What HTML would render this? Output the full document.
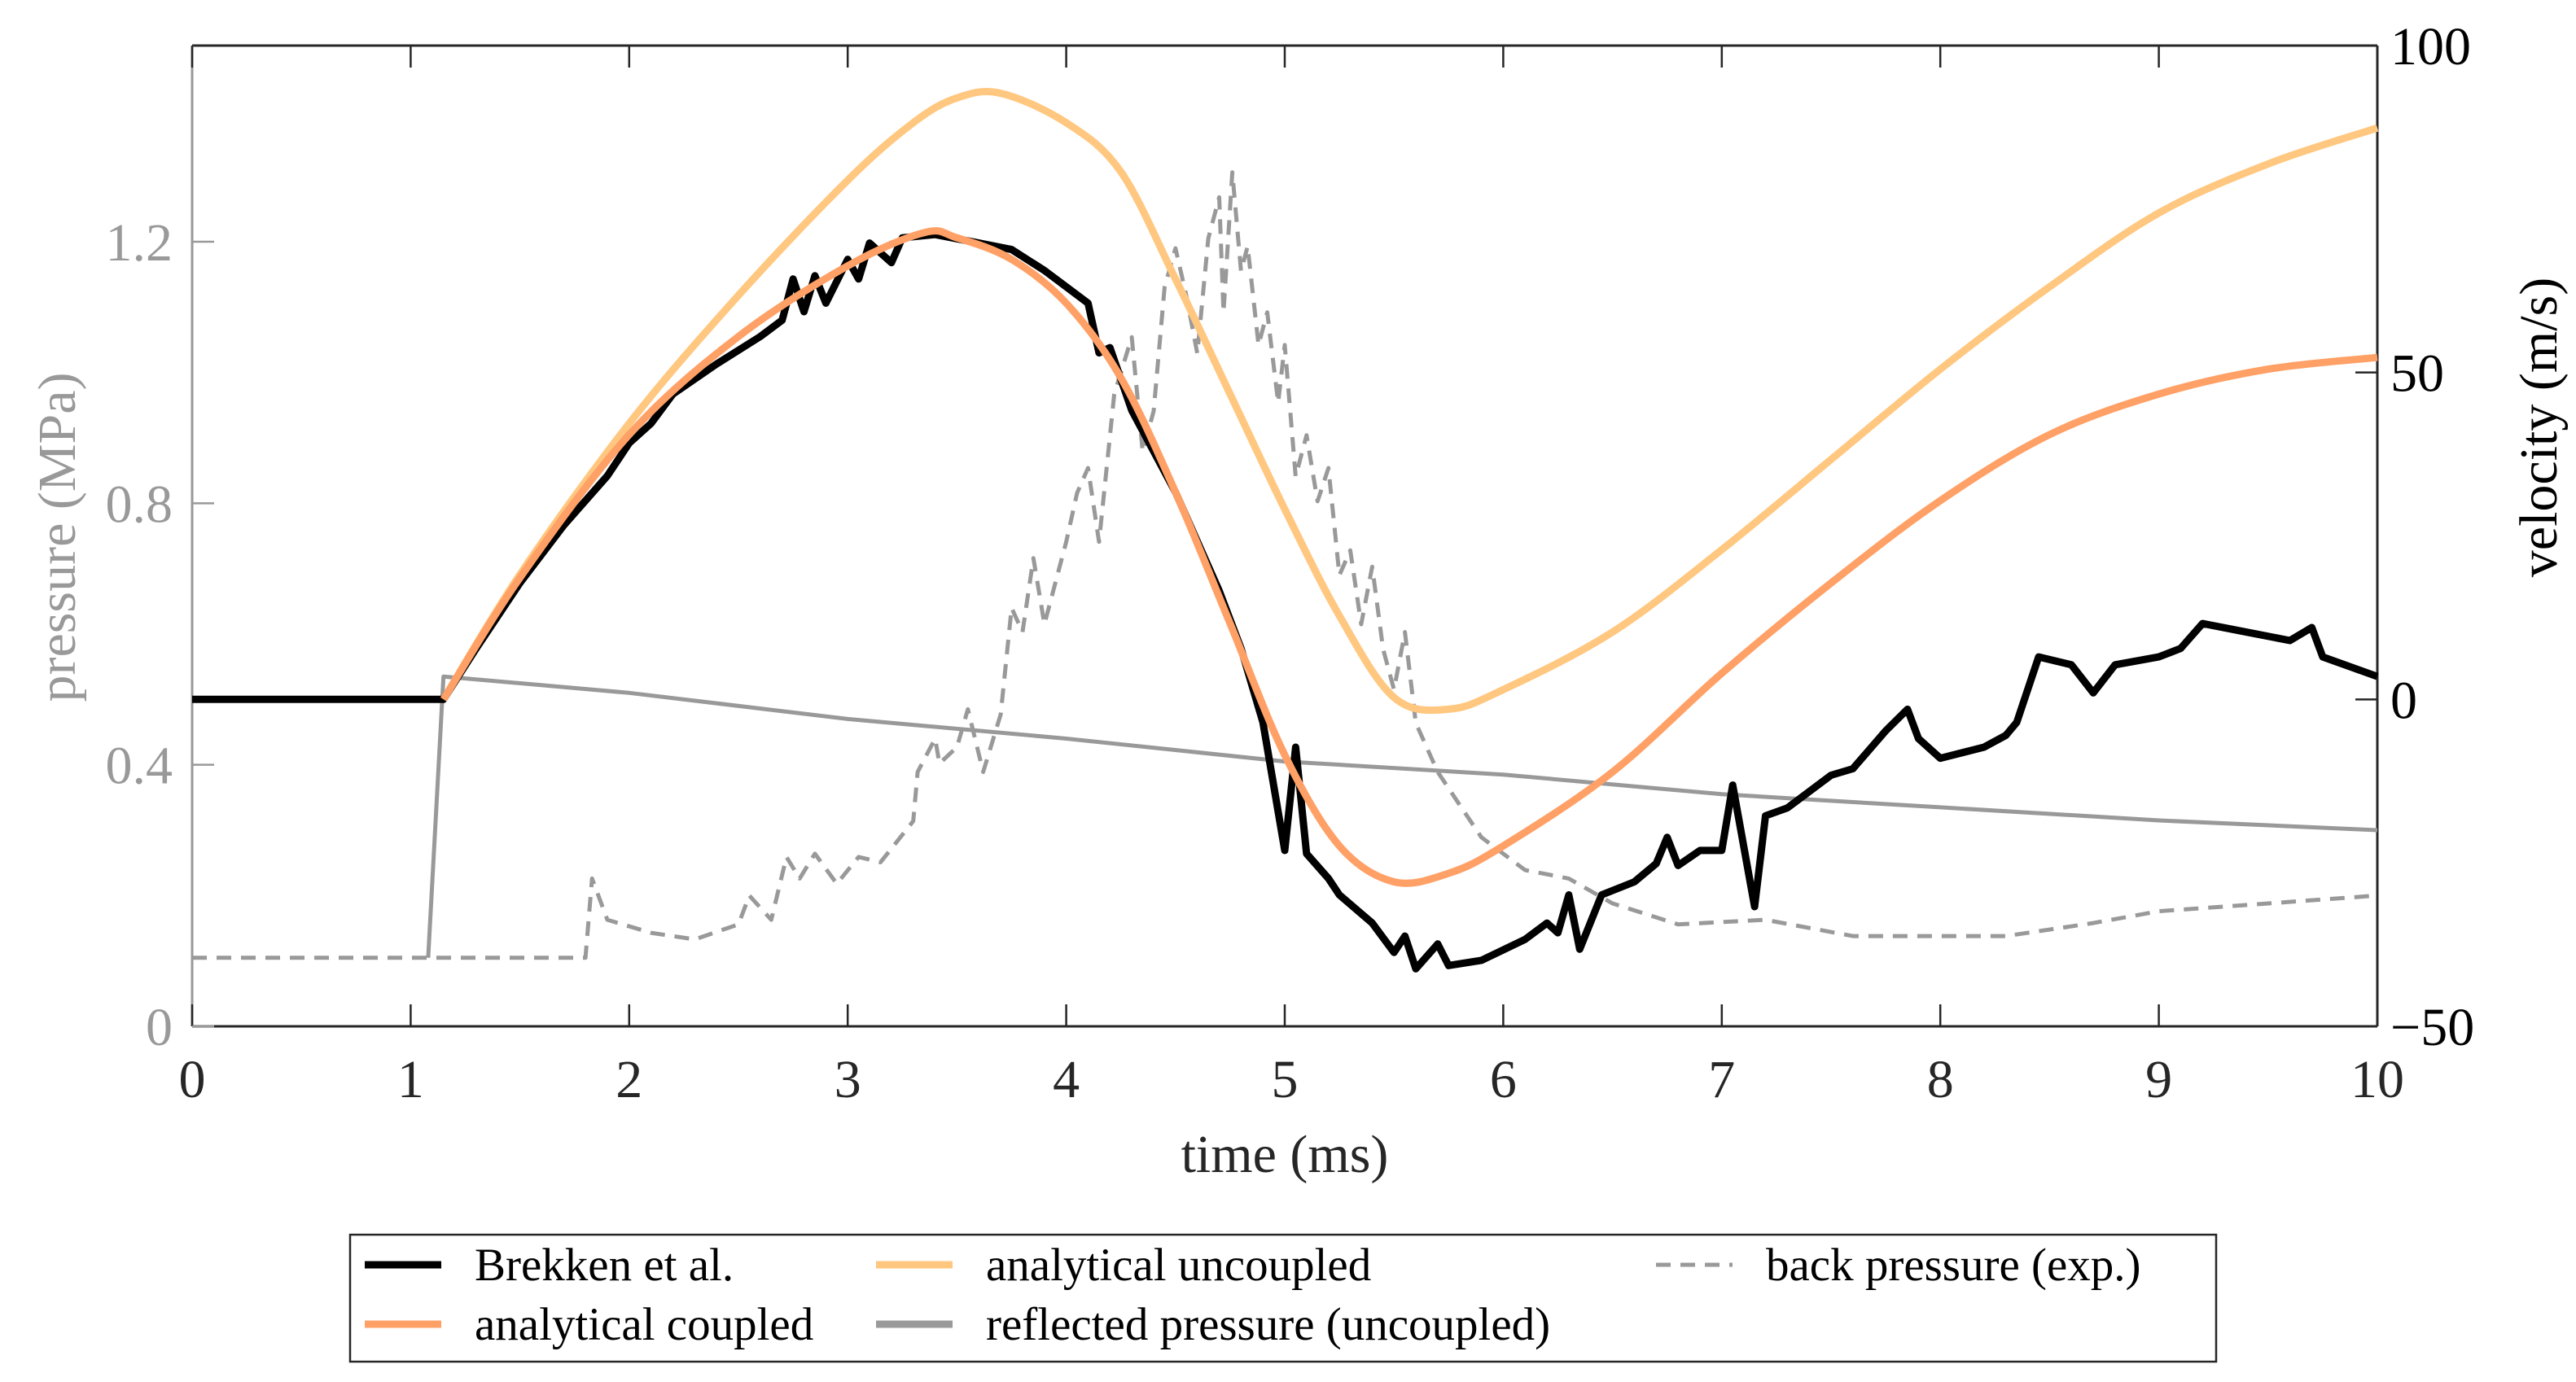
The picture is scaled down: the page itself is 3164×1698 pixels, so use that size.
<!DOCTYPE html>
<html><head><meta charset="utf-8"><style>
html,body{margin:0;padding:0;background:#fff;}
svg text{font-family:"Liberation Serif",serif;}
</style></head><body>
<svg id="chart" width="3164" height="1693" viewBox="0 0 3164 1693" xmlns="http://www.w3.org/2000/svg"></svg>
<script>
const xTicks=[0,1,2,3,4,5,6,7,8,9,10];
const pTicks=[0,0.4,0.8,1.2];
const pTickLabels=["0","0.4","0.8","1.2"];
const vTicks=[-50,0,50,100];
const vTickLabels=["\u221250","0","50","100"];
const brekkenT=[0,1.15,1.3,1.5,1.7,1.9,2.0,2.1,2.2,2.4,2.6,2.7,2.75,2.8,2.85,2.9,3.0,3.05,3.1,3.2,3.25,3.4,3.6,3.75,3.9,4.0,4.1,4.15,4.2,4.3,4.5,4.7,4.8,4.9,5.0,5.05,5.1,5.2,5.25,5.4,5.5,5.55,5.6,5.7,5.75,5.9,6.1,6.2,6.25,6.3,6.35,6.45,6.6,6.7,6.75,6.8,6.9,7.0,7.05,7.15,7.2,7.3,7.5,7.6,7.75,7.85,7.9,8.0,8.2,8.3,8.35,8.45,8.6,8.7,8.8,9.0,9.1,9.2,9.4,9.6,9.7,9.75,10];
const brekkenV=[0,0,7.8,17.8,26.6,34.2,39.2,42.2,46.7,51.3,55.5,58,64.3,59.3,64.8,60.6,67.3,64.3,69.8,66.8,70.6,71.1,69.8,68.8,65.6,63.1,60.6,53,53.8,44.2,31.7,16.6,7.8,-3.5,-23.1,-7.3,-23.6,-27.4,-29.9,-34.2,-38.7,-36.2,-41.2,-37.4,-40.7,-39.9,-36.7,-34.2,-35.7,-29.9,-38.2,-29.9,-27.9,-25.1,-21.1,-25.4,-23.1,-23.1,-13.1,-31.7,-17.8,-16.6,-11.6,-10.6,-4.8,-1.5,-6,-9,-7.3,-5.5,-3.5,6.5,5.3,1,5.3,6.5,7.8,11.6,10.3,9,11,6.5,3.5];
const coupledT=[1.15,1.5,2,2.5,3,3.35,3.5,3.75,4,4.25,4.5,4.75,5,5.25,5.5,5.75,6,6.5,7,7.5,8,8.5,9,9.5,10];
const coupledV=[0,18.6,40.5,55.5,66.3,71.4,70.6,67.3,60.6,49.2,31.7,11.6,-8.5,-22.4,-27.9,-26.6,-22.4,-11.1,4,17.8,30.4,40.5,46.7,50.5,52.3];
const uncoupledT=[1.15,1.5,2,2.5,3,3.3,3.5,3.7,4,4.25,4.5,4.75,5,5.25,5.5,5.75,6,6.5,7,7.5,8,8.5,9,9.5,10];
const uncoupledV=[0,19.1,42.2,61.8,79.4,88.2,92,92.7,88.2,80.7,64.3,46.7,29.1,12.8,0.3,-1.5,1.5,10.3,22.9,36.7,50.5,63.1,74.4,81.9,87.4];
const reflT=[1.08,1.15,2,3,4,5,6,7,8,9,10];
const reflP=[0.105,0.535,0.51,0.47,0.44,0.405,0.385,0.355,0.335,0.315,0.30];
const backT=[0,1.8,1.83,1.9,2.1,2.3,2.5,2.55,2.65,2.72,2.78,2.85,2.95,3.05,3.15,3.3,3.32,3.4,3.42,3.5,3.55,3.62,3.7,3.75,3.8,3.85,3.9,4.0,4.05,4.1,4.15,4.22,4.3,4.35,4.4,4.45,4.5,4.55,4.6,4.65,4.7,4.72,4.76,4.8,4.83,4.88,4.92,4.97,5.0,5.05,5.1,5.15,5.2,5.25,5.3,5.35,5.4,5.45,5.5,5.55,5.6,5.7,5.8,5.9,6.1,6.3,6.5,6.8,7.2,7.6,8,8.3,8.7,9,9.5,10];
const backP=[0.105,0.105,0.226,0.163,0.143,0.133,0.156,0.2,0.163,0.259,0.226,0.264,0.218,0.259,0.251,0.314,0.389,0.44,0.402,0.427,0.485,0.389,0.477,0.64,0.603,0.716,0.615,0.741,0.816,0.854,0.741,0.967,1.054,0.879,0.941,1.13,1.19,1.117,1.029,1.205,1.268,1.092,1.306,1.155,1.193,1.042,1.092,0.954,1.042,0.841,0.904,0.803,0.854,0.69,0.728,0.615,0.703,0.577,0.515,0.603,0.464,0.389,0.339,0.289,0.239,0.226,0.188,0.156,0.163,0.138,0.138,0.138,0.158,0.176,0.188,0.2];

const L=236,R=2920,T=56,B=1261;
const xS=t=>L+(t-0)/(10-0)*(R-L);
const pS=p=>B-(p-0)/(1.5-0)*(B-T);
const vS=v=>B-(v+50)/(150)*(B-T);
const NS="http://www.w3.org/2000/svg";
const svg=document.getElementById('chart');
function mk(tag,attrs,parent){const e=document.createElementNS(NS,tag);for(const k in attrs)e.setAttribute(k,attrs[k]);(parent||svg).appendChild(e);return e;}
function txt(s,attrs){const e=mk('text',attrs);e.textContent=s;return e;}

let e;
e=mk('line',{x1:L,y1:B,x2:R,y2:B,stroke:'#262626','stroke-width':3});


e=mk('line',{x1:L,y1:T,x2:R,y2:T,stroke:'#262626','stroke-width':3});


e=mk('line',{x1:L,y1:T,x2:L,y2:B,stroke:'#999','stroke-width':3});


e=mk('line',{x1:R,y1:T,x2:R,y2:B,stroke:'#262626','stroke-width':3});



xTicks.forEach(t=>{
  e=mk('line',{x1:xS(t),y1:B,x2:xS(t),y2:B-27,stroke:'#262626','stroke-width':2.5});
  
  
  e=mk('line',{x1:xS(t),y1:T,x2:xS(t),y2:T+27,stroke:'#262626','stroke-width':2.5});
  
  
  e=txt(String(t),{x:xS(t),y:1348,'text-anchor':'middle','font-size':66,fill:'#262626'});
  
  
});
pTicks.forEach((p,i)=>{
  e=mk('line',{x1:L,y1:pS(p),x2:L+27,y2:pS(p),stroke:'#999','stroke-width':2.5});
  
  
  e=txt(pTickLabels[i],{x:212,y:pS(p)+23,'text-anchor':'end','font-size':66,fill:'#999'});
  
  
});
vTicks.forEach((v,i)=>{
  e=mk('line',{x1:R,y1:vS(v),x2:R-27,y2:vS(v),stroke:'#262626','stroke-width':2.5});
  
  
  e=txt(vTickLabels[i],{x:2936,y:vS(v)+23,'text-anchor':'start','font-size':66,fill:'#000'});
  
  
});
e=txt('time (ms)',{x:1578,y:1440,'text-anchor':'middle','font-size':66,fill:'#262626'});


e=txt('pressure (MPa)',{x:0,y:0,'text-anchor':'middle','font-size':66,fill:'#999',transform:'translate(92,660) rotate(-90)'});


e=txt('velocity (m/s)',{x:0,y:0,'text-anchor':'middle','font-size':66,fill:'#000',transform:'translate(3140,525) rotate(-90)'});



function line(ts,vs,sc,stroke,w,dash,name,smooth){
  const pts=ts.map((t,i)=>[xS(t),sc(vs[i])]);
  let d='M'+pts[0][0].toFixed(1)+','+pts[0][1].toFixed(1);
  for(let i=1;i<pts.length;i++){
    if(smooth){
      const p0=pts[Math.max(i-2,0)],p1=pts[i-1],p2=pts[i],p3=pts[Math.min(i+1,pts.length-1)];
      const c1=[p1[0]+(p2[0]-p0[0])/6,p1[1]+(p2[1]-p0[1])/6];
      const c2=[p2[0]-(p3[0]-p1[0])/6,p2[1]-(p3[1]-p1[1])/6];
      d+='C'+c1[0].toFixed(1)+','+c1[1].toFixed(1)+' '+c2[0].toFixed(1)+','+c2[1].toFixed(1)+' '+p2[0].toFixed(1)+','+p2[1].toFixed(1);
    } else d+='L'+pts[i][0].toFixed(1)+','+pts[i][1].toFixed(1);
  }
  const a={d:d,fill:'none',stroke:stroke,'stroke-width':w,'stroke-linejoin':'round'};
  if(dash)a['stroke-dasharray']=dash;
  const p=mk('path',a);
  
  
}
line(backT,backP,pS,'#999',5,'18 12','back-pressure-line',false);
line(reflT,reflP,pS,'#999',5,null,'reflected-pressure-line',false);
line(uncoupledT,uncoupledV,vS,'#FFC77F',9,null,'analytical-uncoupled-line',true);
line(brekkenT,brekkenV,vS,'#000',9,null,'brekken-line',false);
line(coupledT,coupledV,vS,'#FFA066',9,null,'analytical-coupled-line',true);

const lg=mk('g',{});


mk('rect',{x:430,y:1517,width:2292,height:156,fill:'#fff',stroke:'#262626','stroke-width':2.5},lg);
const legItems=[
 ['Brekken et al.','#000',null,448,1554,9],
 ['analytical coupled','#FFA066',null,448,1627,9],
 ['analytical uncoupled','#FFC77F',null,1076,1554,9],
 ['reflected pressure (uncoupled)','#999',null,1076,1627,9],
 ['back pressure (exp.)','#999','18 12',2034,1554,5]];
legItems.forEach(it=>{
  const g=mk('g',{},lg);
  
  
  const a={x1:it[3],y1:it[4],x2:it[3]+94,y2:it[4],stroke:it[1],'stroke-width':it[5]};
  if(it[2])a['stroke-dasharray']=it[2];
  mk('line',a,g);
  const t=mk('text',{x:it[3]+135,y:it[4]+19,'font-size':57,fill:'#000'},g);
  t.textContent=it[0];
});
</script>
</body></html>
